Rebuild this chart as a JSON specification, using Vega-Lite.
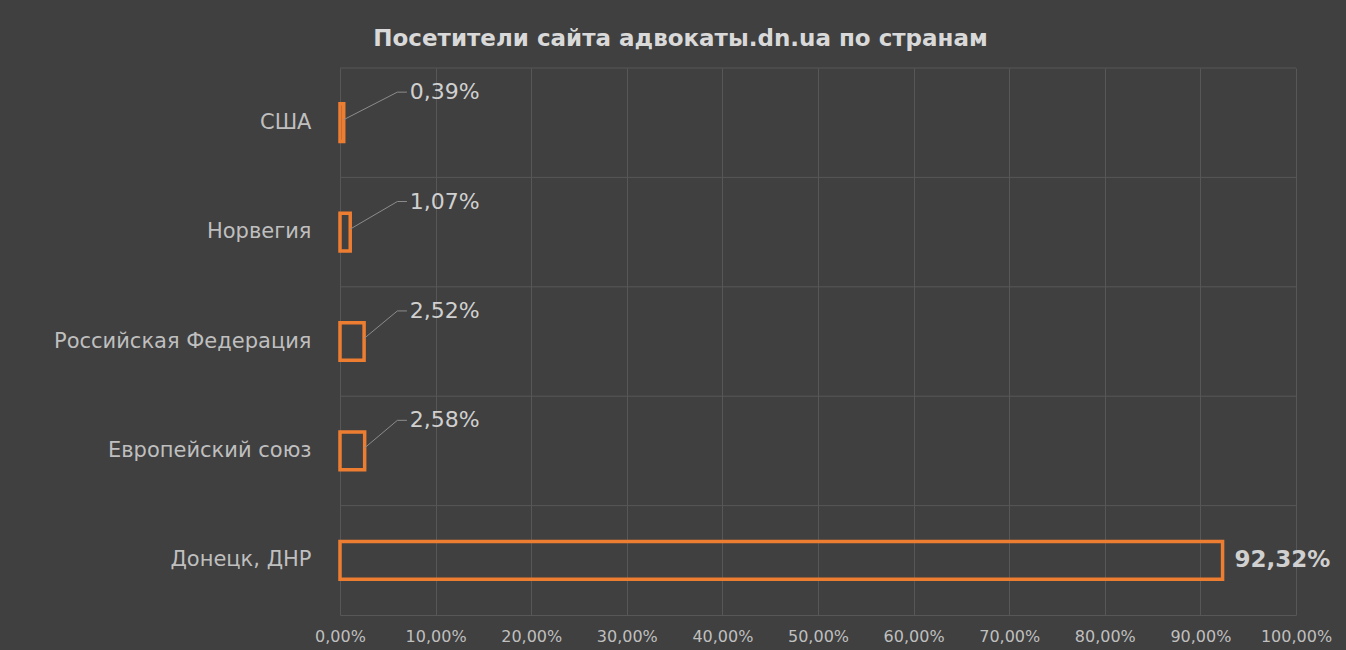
{
  "$schema": "https://vega.github.io/schema/vega-lite/v6.json",
  "autosize": "none",
  "width": 956,
  "height": 547,
  "padding": {"left": 340, "top": 68, "right": 50, "bottom": 35},
  "background": "#404040",
  "title": {
    "text": "Посетители сайта адвокаты.dn.ua по странам",
    "font": "DejaVu Sans",
    "fontSize": 23,
    "fontWeight": "bold",
    "color": "#d9d9d9",
    "anchor": "middle",
    "frame": "bounds",
    "offset": 16,
    "dx": -12
  },
  "config": {
    "view": {"stroke": null},
    "locale": {"number": {"decimal": ",", "thousands": " ", "grouping": [3], "currency": ["", ""]}}
  },
  "data": {
    "values": [
      {"country": "США", "share": 0.0039},
      {"country": "Норвегия", "share": 0.0107},
      {"country": "Российская Федерация", "share": 0.0252},
      {"country": "Европейский союз", "share": 0.0258},
      {"country": "Донецк, ДНР", "share": 0.9232}
    ]
  },
  "layer": [
    {
      "mark": {"type": "rule", "color": "#575757", "strokeWidth": 1},
      "encoding": {
        "y": {"field": "country", "type": "nominal", "sort": ["США", "Норвегия", "Российская Федерация", "Европейский союз", "Донецк, ДНР"], "bandPosition": -0.9493}
      }
    },
    {
      "mark": {"type": "bar", "fill": "#404040", "fillOpacity": 0, "stroke": "#ed7d31", "strokeWidth": 3.5},
      "encoding": {
        "y": {
          "field": "country", "type": "nominal",
          "sort": ["США", "Норвегия", "Российская Федерация", "Европейский союз", "Донецк, ДНР"],
          "scale": {"paddingInner": 0.655, "paddingOuter": 0.3275},
          "axis": {
            "title": null, "domain": false, "ticks": false, "grid": false,
            "labelFont": "DejaVu Sans", "labelFontSize": 21, "labelColor": "#bfbfbf", "labelPadding": 29, "labelLimit": 0
          }
        },
        "x": {
          "field": "share", "type": "quantitative",
          "scale": {"domain": [0, 1], "nice": false},
          "axis": {
            "title": null, "domain": true, "domainColor": "#575757", "ticks": false, "grid": true,
            "values": [0, 0.1, 0.2, 0.3, 0.4, 0.5, 0.6, 0.7, 0.8, 0.9, 1],
            "format": ".2%", "gridColor": "#575757", "gridWidth": 1,
            "labelOverlap": false, "labelFlush": false, "labelBound": false,
            "labelFont": "DejaVu Sans", "labelFontSize": 16, "labelColor": "#bfbfbf", "labelPadding": 13
          }
        }
      }
    },
    {
      "transform": [{"filter": "datum.share < 0.1"}],
      "mark": {"type": "rule", "color": "#8c8c8c", "strokeWidth": 1},
      "encoding": {
        "y": {"field": "country", "type": "nominal", "sort": ["США", "Норвегия", "Российская Федерация", "Европейский союз", "Донецк, ДНР"], "bandPosition": 0.42},
        "y2": {"field": "country", "bandPosition": -0.31},
        "x": {"field": "share", "type": "quantitative"},
        "x2": {"datum": 0.06}
      }
    },
    {
      "transform": [{"filter": "datum.share < 0.1"}],
      "mark": {"type": "rule", "color": "#8c8c8c", "strokeWidth": 1},
      "encoding": {
        "y": {"field": "country", "type": "nominal", "sort": ["США", "Норвегия", "Российская Федерация", "Европейский союз", "Донецк, ДНР"], "bandPosition": -0.31},
        "x": {"datum": 0.06, "type": "quantitative"},
        "x2": {"datum": 0.07}
      }
    },
    {
      "transform": [{"filter": "datum.share < 0.1"}],
      "mark": {"type": "text", "align": "left", "baseline": "middle", "font": "DejaVu Sans", "fontSize": 22, "color": "#d0d0d0"},
      "encoding": {
        "y": {"field": "country", "type": "nominal", "sort": ["США", "Норвегия", "Российская Федерация", "Европейский союз", "Донецк, ДНР"], "bandPosition": -0.31},
        "x": {"datum": 0.073, "type": "quantitative"},
        "text": {"field": "share", "type": "quantitative", "format": ".2%"}
      }
    },
    {
      "transform": [{"filter": "datum.share >= 0.1"}],
      "mark": {"type": "text", "align": "left", "baseline": "middle", "dx": 12, "font": "DejaVu Sans", "fontSize": 23, "fontWeight": "bold", "color": "#d0d0d0"},
      "encoding": {
        "y": {"field": "country", "type": "nominal", "sort": ["США", "Норвегия", "Российская Федерация", "Европейский союз", "Донецк, ДНР"]},
        "x": {"field": "share", "type": "quantitative"},
        "text": {"field": "share", "type": "quantitative", "format": ".2%"}
      }
    }
  ]
}
